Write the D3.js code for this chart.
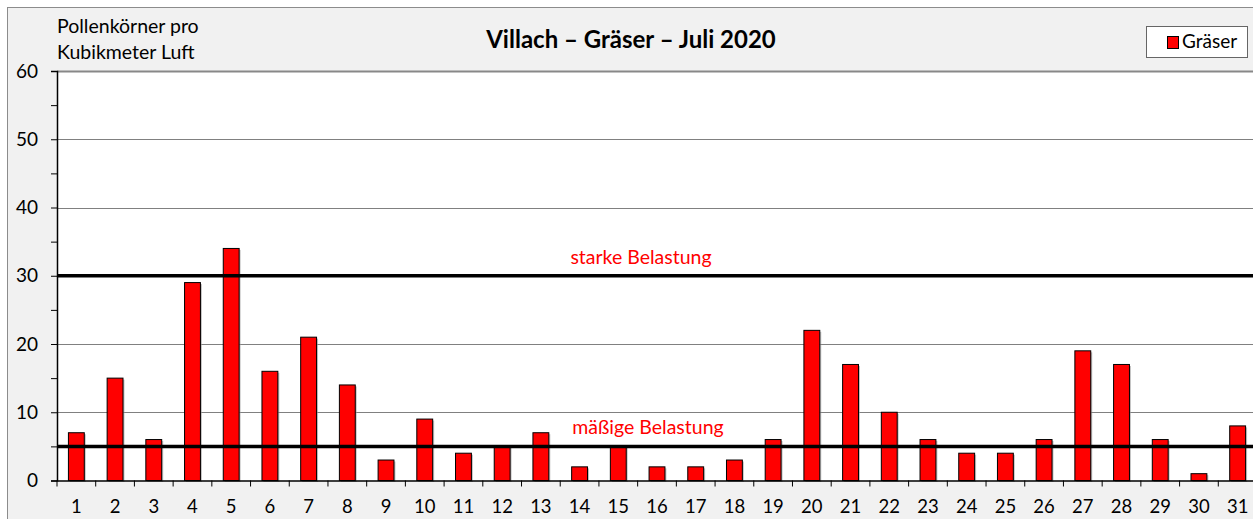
<!DOCTYPE html>
<html>
<head>
<meta charset="utf-8">
<script src="https://cdn.jsdelivr.net/npm/d3@7"></script>
<style>
  body { margin: 0; background: #fff; }
  svg { display: block; font-family: Lato, "Open Sans", sans-serif; }
</style>
</head>
<body>
<svg width="1253" height="519"></svg>
<script>
let days = d3.range(1, 32).map(String);
let pollen = [7, 15, 6, 29, 34, 16, 21, 14, 3, 9, 4, 5, 7, 2, 5, 2, 2, 3, 6, 22, 17, 10, 6, 4, 4, 6, 19, 17, 6, 1, 8];
let yTicks = [0, 10, 20, 30, 40, 50, 60];
let thresholds = [30, 5];
let thresholdLabels = ['starke Belastung', 'mäßige Belastung'];

let svg = d3.select('svg');
let plotLeft = 57, plotTop = 71, plotRight = 1257, plotBottom = 480.5;

// chart area background
svg.append('rect')
    .attr('x', 7.5).attr('y', 7.5)
    .attr('width', 1260).attr('height', 530)
    .attr('fill', '#f1f1f1')
    .attr('stroke', '#8c8c8c');

svg.append('rect')
    .attr('x', plotLeft).attr('y', plotTop)
    .attr('width', plotRight - plotLeft).attr('height', plotBottom - plotTop)
    .attr('fill', '#fff');

let x = d3.scaleBand()
    .domain(days)
    .range([plotLeft, plotRight])
    .paddingInner(0.59)
    .paddingOuter(0.295);

let y = d3.scaleLinear()
    .domain([0, 60])
    .range([plotBottom, plotTop]);

// gridlines
svg.append('g')
    .selectAll('line')
    .data(yTicks.slice(1))
    .enter()
    .append('line')
    .attr('x1', plotLeft).attr('x2', plotRight)
    .attr('y1', (d) => Math.round(y(d)) + 0.5)
    .attr('y2', (d) => Math.round(y(d)) + 0.5)
    .attr('stroke', (d) => d === 60 ? '#888' : '#808080')
    .attr('stroke-width', (d) => d === 60 ? 2 : 1);

// bar shadows
svg.append('g')
    .selectAll('rect')
    .data(pollen)
    .enter()
    .append('rect')
    .attr('x', (d, i) => x(days[i]) + 1.5)
    .attr('y', (d) => y(d) + 1.5)
    .attr('width', x.bandwidth())
    .attr('height', (d) => plotBottom - y(d))
    .attr('fill', '#999')
    .attr('opacity', 0.6);

// bars
svg.append('g')
    .selectAll('rect')
    .data(pollen)
    .enter()
    .append('rect')
    .attr('x', (d, i) => x(days[i]))
    .attr('y', (d) => y(d))
    .attr('width', x.bandwidth())
    .attr('height', (d) => plotBottom - y(d))
    .attr('fill', '#ff0000')
    .attr('stroke', '#000')
    .attr('stroke-width', 1);

// threshold lines
svg.append('g')
    .selectAll('line')
    .data(thresholds)
    .enter()
    .append('line')
    .attr('x1', plotLeft).attr('x2', plotRight)
    .attr('y1', (d) => y(d))
    .attr('y2', (d) => y(d))
    .attr('stroke', '#000')
    .attr('stroke-width', 3.5);

svg.append('g')
    .selectAll('text')
    .data(thresholds)
    .enter()
    .append('text')
    .attr('x', (d, i) => i === 0 ? 641 : 648)
    .attr('y', (d) => y(d) - 12)
    .attr('text-anchor', 'middle')
    .attr('fill', '#ff0000')
    .attr('font-size', 19.5)
    .text((d, i) => thresholdLabels[i]);

// y axis
let yAxis = d3.axisLeft(y)
    .tickValues(d3.range(0, 61, 5))
    .tickSize(6)
    .tickFormat((d) => d % 10 === 0 ? d : '');
let gy = svg.append('g')
    .attr('transform', 'translate(' + plotLeft + ',0)')
    .call(yAxis);
gy.select('.domain').attr('stroke', '#000').attr('stroke-width', 1.5);
gy.selectAll('.tick line').attr('stroke', '#000');
gy.selectAll('.tick text')
    .attr('x', -19)
    .attr('font-size', 19)
    .attr('font-family', 'Lato, "Open Sans", sans-serif')
    .attr('fill', '#000');

// x axis
let xAxis = d3.axisBottom(x).tickSize(0).tickPadding(19);
let gx = svg.append('g')
    .attr('transform', 'translate(0,' + plotBottom + ')')
    .call(xAxis);
gx.select('.domain').attr('stroke', '#000').attr('stroke-width', 1.5);
gx.selectAll('.tick text')
    .attr('font-size', 18.5)
    .attr('font-family', 'Lato, "Open Sans", sans-serif')
    .attr('fill', '#000');

// category separators
let step = x.step();
svg.append('g')
    .selectAll('line')
    .data(days)
    .enter()
    .append('line')
    .attr('x1', (d) => x(d) - step * 0.295)
    .attr('x2', (d) => x(d) - step * 0.295)
    .attr('y1', plotBottom)
    .attr('y2', plotBottom + 6)
    .attr('stroke', '#000');

// title
svg.append('text')
    .attr('x', 631).attr('y', 48)
    .attr('text-anchor', 'middle')
    .attr('font-size', 24)
    .attr('font-weight', 'bold')
    .text('Villach – Gräser – Juli 2020');

// y axis caption
svg.append('text')
    .attr('x', 57).attr('y', 33)
    .attr('font-size', 19.5)
    .text('Pollenkörner pro');
svg.append('text')
    .attr('x', 57).attr('y', 59)
    .attr('font-size', 19.5)
    .text('Kubikmeter Luft');

// legend
let legend = svg.append('g');
legend.append('rect')
    .attr('x', 1146.5).attr('y', 26.5)
    .attr('width', 101).attr('height', 31)
    .attr('fill', '#fff')
    .attr('stroke', '#666');
legend.append('rect')
    .attr('x', 1167.5).attr('y', 36.5)
    .attr('width', 11).attr('height', 12)
    .attr('fill', '#ff0000')
    .attr('stroke', '#000');
legend.append('text')
    .attr('x', 1182).attr('y', 48)
    .attr('font-size', 19)
    .text('Gräser');
</script>
</body>
</html>
